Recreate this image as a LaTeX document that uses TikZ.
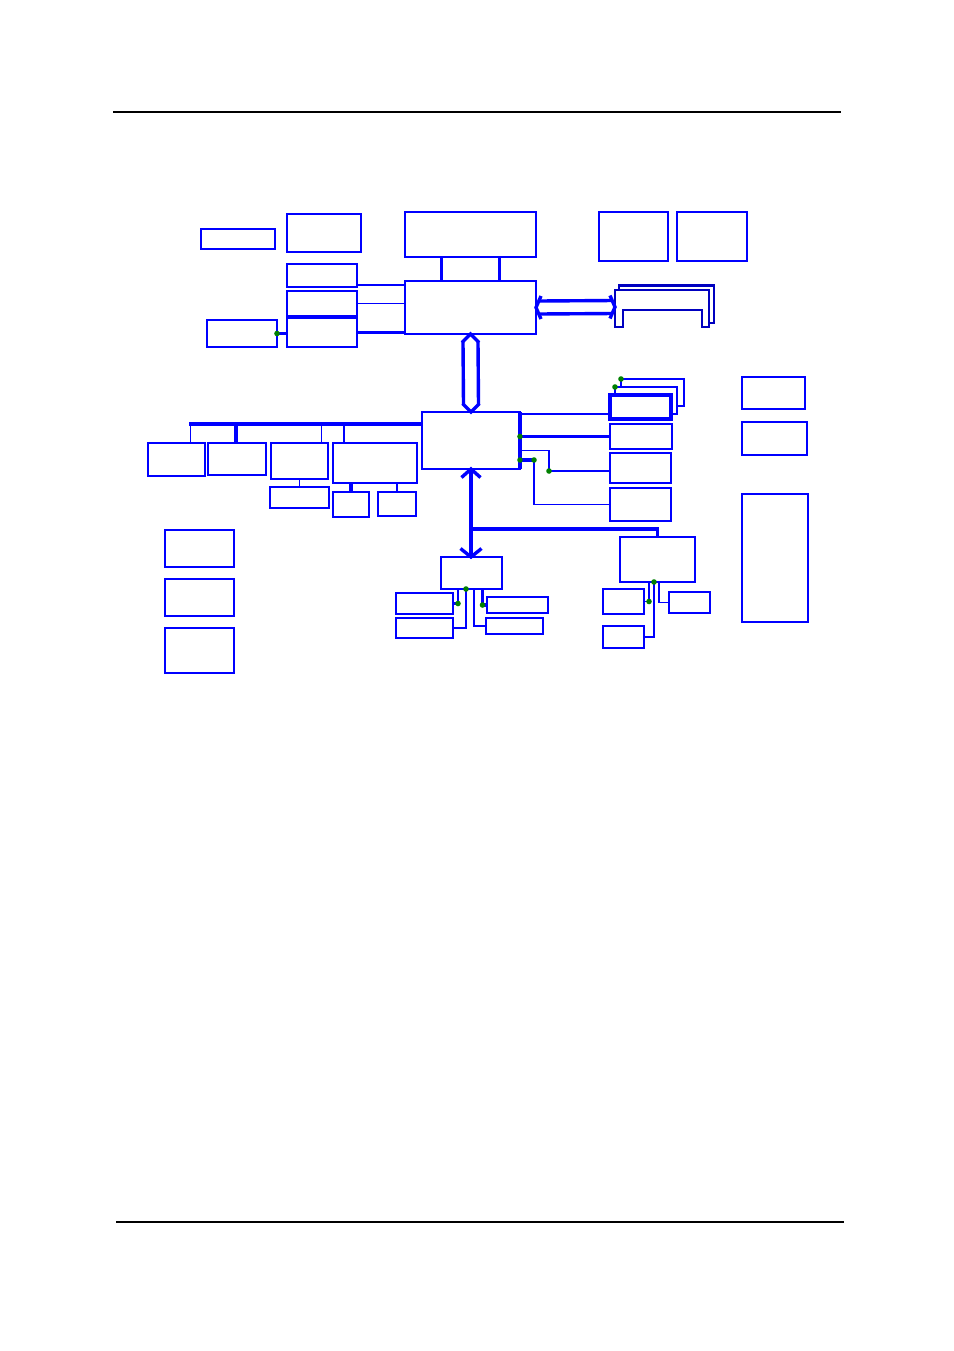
\documentclass[tikz,border=0pt]{standalone}
\usetikzlibrary{positioning, calc, fit}
\definecolor{wireblue}{RGB}{0,0,255}
\definecolor{cardblue}{RGB}{0,0,192}
\definecolor{joint}{RGB}{0,128,0}

\begin{document}
\begin{tikzpicture}[x=0.5pt,y=-0.5pt,
    box/.style={draw=wireblue,line width=0.6pt,inner sep=0pt,outer sep=0pt,fit={#1}},
    wire/.style={draw=wireblue,line width=0.6pt},
    bus/.style={draw=wireblue,line width=1.6pt},
    fat/.style={draw=wireblue,line width=1.7pt}]
    \useasboundingbox (0,0) rectangle (954,1351);
    \draw[line width=0.6pt] (113,112) -- (841,112);
    \draw[line width=0.6pt] (116,1222) -- (844,1222);

    % top row
    \node[box={(201,229) (275,249)}] (osc) {};
    \node[box={(287,214) (361,252)}] (clk) {};
    \node[box={(405,212) (536,257)}] (cpu) {};
    \node[box={(599,212) (668,261)}] (dimma) {};
    \node[box={(677,212) (747,261)}] (dimmb) {};
    \node[box={(287,264) (357,287)}] (gtla) {};
    \node[box={(287,291) (357,316)}] (gtlb) {};
    \node[box={(287,318) (357,347)}] (gtlc) {};
    \node[box={(207,320) (277,347)}] (volt) {};
    \node[box={(405,281) (536,334)}] (nb) {};
    \node[box={(422,412) (520,469)}] (sb) {};

    % pci side
    \node[box={(148,443) (205,476)}] (pcia) {};
    \node[box={(208,443) (266,475)}] (pcib) {};
    \node[box={(271,443) (328,479)}] (pcic) {};
    \node[box={(333,443) (417,483)}] (pcid) {};
    \node[box={(270,487) (329,508)}] (pcie) {};
    \node[box={(333,492) (369,517)}] (pcif) {};
    \node[box={(378,492) (416,516)}] (pcig) {};

    % south bridge side
    \node[box={(610,395) (671,419)}, line width=1.6pt] (ide) {};
    \node[box={(610,424) (672,449)}] (usb) {};
    \node[box={(610,453) (671,483)}] (aud) {};
    \node[box={(610,488) (671,521)}] (lan) {};
    \node[box={(742,377) (805,409)}] (pwra) {};
    \node[box={(742,422) (807,455)}] (pwrb) {};
    \node[box={(742,494) (808,622)}] (pwrc) {};
    \node[box={(441,557) (502,589)}] (lpc) {};
    \node[box={(620,537) (695,582)}] (sio) {};
    \node[box={(396,593) (453,614)}] (lpca) {};
    \node[box={(396,618) (453,638)}] (lpcb) {};
    \node[box={(487,597) (548,613)}] (lpcc) {};
    \node[box={(486,618) (543,634)}] (lpcd) {};
    \node[box={(603,589) (644,614)}] (sioa) {};
    \node[box={(603,626) (644,648)}] (siob) {};
    \node[box={(669,592) (710,613)}] (sioc) {};
    \node[box={(165,530) (234,567)}] (mema) {};
    \node[box={(165,579) (234,616)}] (memb) {};
    \node[box={(165,628) (234,673)}] (memc) {};

    % agp card
    \draw[cardblue,line width=1.3pt] (619,289.7) -- (619,285.7) -- (714,285.7) -- (714,323) -- (709,323);
    \draw[cardblue,line width=0.9pt] (615,327) -- (615,289.7) -- (709,289.7) -- (709,327) -- (701.7,327)
        -- (701.7,310) -- (623,310) -- (623,327) -- cycle;
    \coordinate (agp) at (615,307);

    % ide stack
    \draw[wire] ($(ide.north west)+(5,0)$) -- ++(0,-8) coordinate (stka) -- ++(62,0) -- ++(0,27) -- ++(-6,0);
    \draw[wire] ($(stka)+(6,0)$) -- ++(0,-8) coordinate (stkb) -- ++(63,0) -- ++(0,27) -- ++(-7,0);

    % cpu links
    \foreach \t in {0.28,0.72}
      \draw[fat] ($(cpu.south west)!\t!(cpu.south east)$) -- ($(nb.north west)!\t!(nb.north east)$);
    \draw[wire] ($(gtla.south east)+(0,-2)$) coordinate (gta) -- (gta -| nb.west);
    \draw[wire] (gtlb.east) -- (gtlb.east -| nb.west);
    \draw[fat] (gtlc.east) -- (gtlc.east -| nb.west);
    \draw[fat] (volt.east) -- (volt.east -| gtlc.west);

    % agp arrow
    \draw[fat] ($(nb.east)+(2,-6.5)$) -- ($(agp)+(-2,-6.5)$)
               ($(nb.east)+(2,6.5)$) -- ($(agp)+(-2,6.5)$);
    \draw[fat] ($(nb.east)+(5,-11.5)$) -- (nb.east) -- ($(nb.east)+(5,11.5)$)
               ($(agp)+(-5,-11.5)$) -- (agp) -- ($(agp)+(-5,11.5)$);

    % hub arrow
    \draw[fat] ($(nb.south)+(-7.5,8)$) -- ($(sb.north)+(-7.5,-8)$)
               ($(nb.south)+(7.5,8)$) -- ($(sb.north)+(7.5,-8)$);
    \draw[fat] ($(nb.south)+(-8.5,8.5)$) -- (nb.south) -- ($(nb.south)+(8.5,8.5)$)
               ($(sb.north)+(-8.5,-8.5)$) -- (sb.north) -- ($(sb.north)+(8.5,-8.5)$);

    % pci bus
    \draw[bus] ($(sb.north west)+(0,12)$) coordinate (pci) -- ++(-233,0);
    \foreach \b/\t/\w in {pcia/0.75/wire,pcib/0.48/fat,pcic/0.88/wire,pcid/0.13/wire}
      \draw[\w] ($(\b.north west)!\t!(\b.north east)$) coordinate (tap) -- (tap |- pci);
    \draw[wire] (pcic.south) -- (pcic.south |- pcie.north);
    \draw[fat] (pcif.north) -- (pcif.north |- pcid.south);
    \draw[wire] (pcig.north) -- (pcig.north |- pcid.south);

    % right of south bridge
    \draw[fat] (sb.north east) -- (sb.south east);
    \draw[wire] ($(sb.north east)+(0,2)$) coordinate (sbk) -- (sbk -| ide.west);
    \draw[fat] (usb.west -| sb.east) coordinate (sbu) -- (usb.west);
    \coordinate (audin) at ($(aud.west)+(0,3)$);
    \draw[wire] ($(sb.east)+(0,10)$) -- ++(29,0) coordinate (sba) |- (audin);
    \draw[fat] ($(sb.east)+(0,19.5)$) coordinate (sbl) -- ++(14,0) coordinate (sblb);
    \draw[wire] (sblb) |- (lan.west);

    % lpc
    \draw[fat] (sb.south) -- (sb.south |- lpc.north);
    \draw[fat] ($(sb.south)+(-9.5,8.5)$) -- (sb.south) -- ($(sb.south)+(9.5,8.5)$);
    \draw[fat] ($(sb.south |- lpc.north)+(-10.5,-8.5)$) -- (sb.south |- lpc.north)
               -- ($(sb.south |- lpc.north)+(10.5,-8.5)$);
    \draw[fat] ($(sb.south)+(0,60)$) -| (sio.north);

    \draw[wire] ($(lpc.south west)+(17,0)$) coordinate (lpa) -- (lpa |- lpca.east);
    \draw[fat] (lpa |- lpca.east) -- (lpca.east);
    \draw[wire] ($(lpc.south)+(-5.5,0)$) coordinate (lpb) |- (lpcb.east);
    \draw[wire] ($(lpc.south)+(2.5,0)$) |- (lpcd.west);
    \draw[fat] ($(lpc.south)+(11,0)$) coordinate (lpc3) -- (lpc3 |- lpcc.west) -- (lpcc.west);

    \draw[wire] ($(sio.south)+(-8.5,0)$) coordinate (sia) -- (sia |- sioa.east) -- (sioa.east);
    \draw[wire] ($(sio.south)+(-3.5,0)$) coordinate (sib) |- (siob.east);
    \draw[wire] ($(sio.south)+(1.5,0)$) |- (sioc.west);

    \foreach \p in {volt.east, stka, stkb, sbu, sba |- audin, sbl, sblb, lpa |- lpca.east, lpb,
                    lpc3 |- lpcc.west, sia |- sioa.east, sib}
      \fill[joint] (\p) circle (1.4pt);
\end{tikzpicture}
\end{document}
